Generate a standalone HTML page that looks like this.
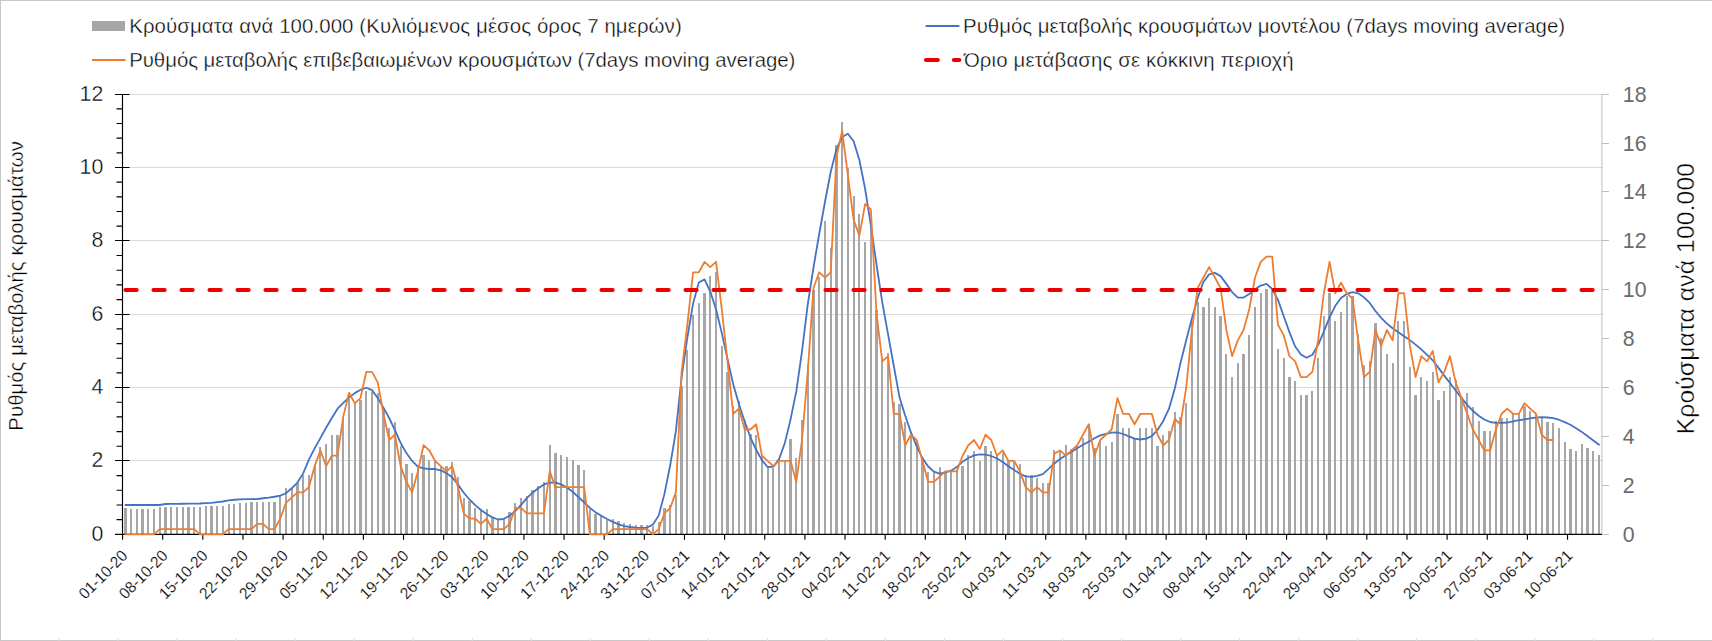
<!DOCTYPE html>
<html lang="el"><head><meta charset="utf-8"><title>Chart</title>
<style>html,body{margin:0;padding:0;background:#fff;}svg{display:block;}text{font-family:"Liberation Sans",Arial,sans-serif;stroke:#fff;stroke-width:0.38px;paint-order:fill stroke;}</style></head><body>
<svg width="1712" height="641" viewBox="0 0 1712 641">
<rect x="0" y="0" width="1712" height="641" fill="#ffffff"/>
<path d="M0 0.5H1712 M0.5 0V641 M0 640.5H1712" stroke="#c8c8c8" stroke-width="1" fill="none"/>
<path d="M59.03 638V641M118.06 638V641M177.09 638V641M236.12 638V641M295.15 638V641M354.18 638V641M413.21 638V641M472.24 638V641M531.27 638V641M590.3 638V641M649.33 638V641M708.36 638V641M767.39 638V641M826.42 638V641M885.45 638V641M944.48 638V641M1003.51 638V641M1062.54 638V641M1121.57 638V641M1180.6 638V641M1239.63 638V641M1298.66 638V641M1357.69 638V641M1416.72 638V641M1475.75 638V641M1534.78 638V641M1593.81 638V641M1652.84 638V641" stroke="#dcdcdc" stroke-width="1" fill="none"/>
<path d="M122.55 460.5H1602.92M122.55 387.5H1602.92M122.55 314.5H1602.92M122.55 240.5H1602.92M122.55 167.5H1602.92M122.55 94.5H1602.92" stroke="#d9d9d9" stroke-width="1" fill="none"/>
<path d="M124 508H127V534.3H124ZM130 509H132V534.3H130ZM136 509H138V534.3H136ZM141 509H144V534.3H141ZM147 509H149V534.3H147ZM153 509H155V534.3H153ZM159 507H161V534.3H159ZM164 507H167V534.3H164ZM170 507H172V534.3H170ZM176 507H178V534.3H176ZM182 507H184V534.3H182ZM187 507H190V534.3H187ZM193 507H195V534.3H193ZM199 507H201V534.3H199ZM205 506H207V534.3H205ZM210 506H213V534.3H210ZM216 506H218V534.3H216ZM222 506H224V534.3H222ZM228 504H230V534.3H228ZM233 504H235V534.3H233ZM239 503H241V534.3H239ZM245 503H247V534.3H245ZM250 502H253V534.3H250ZM256 502H258V534.3H256ZM262 502H264V534.3H262ZM268 502H270V534.3H268ZM273 502H276V534.3H273ZM279 496H281V534.3H279ZM285 488H287V534.3H285ZM291 488H293V534.3H291ZM296 483H299V534.3H296ZM302 475H304V534.3H302ZM308 475H310V534.3H308ZM314 466H316V534.3H314ZM319 447H321V534.3H319ZM325 444H327V534.3H325ZM331 435H333V534.3H331ZM336 435H339V534.3H336ZM342 417H344V534.3H342ZM348 399H350V534.3H348ZM354 402H356V534.3H354ZM359 400H362V534.3H359ZM365 391H367V534.3H365ZM371 392H373V534.3H371ZM377 393H379V534.3H377ZM382 409H385V534.3H382ZM388 428H390V534.3H388ZM394 422H396V534.3H394ZM400 446H402V534.3H400ZM405 464H408V534.3H405ZM411 473H413V534.3H411ZM417 468H419V534.3H417ZM422 455H425V534.3H422ZM428 460H430V534.3H428ZM434 461H436V534.3H434ZM440 466H442V534.3H440ZM445 466H448V534.3H445ZM451 462H453V534.3H451ZM457 477H459V534.3H457ZM463 498H465V534.3H463ZM468 501H471V534.3H468ZM474 508H476V534.3H474ZM480 510H482V534.3H480ZM486 509H488V534.3H486ZM491 518H494V534.3H491ZM497 520H499V534.3H497ZM503 518H505V534.3H503ZM508 512H511V534.3H508ZM514 503H516V534.3H514ZM520 498H522V534.3H520ZM526 496H528V534.3H526ZM531 490H534V534.3H531ZM537 486H539V534.3H537ZM543 482H545V534.3H543ZM549 445H551V534.3H549ZM554 453H557V534.3H554ZM560 455H562V534.3H560ZM566 457H568V534.3H566ZM572 460H574V534.3H572ZM577 465H580V534.3H577ZM583 470H585V534.3H583ZM589 509H591V534.3H589ZM594 514H597V534.3H594ZM600 516H602V534.3H600ZM606 520H608V534.3H606ZM612 519H614V534.3H612ZM617 521H620V534.3H617ZM623 523H625V534.3H623ZM629 524H631V534.3H629ZM635 525H637V534.3H635ZM640 525H643V534.3H640ZM646 525H648V534.3H646ZM652 526H654V534.3H652ZM658 522H660V534.3H658ZM663 508H666V534.3H663ZM669 505H671V534.3H669ZM675 495H677V534.3H675ZM680 386H683V534.3H680ZM686 350H688V534.3H686ZM692 315H694V534.3H692ZM698 303H700V534.3H698ZM703 293H706V534.3H703ZM709 276H711V534.3H709ZM715 272H717V534.3H715ZM721 346H723V534.3H721ZM726 372H729V534.3H726ZM732 406H734V534.3H732ZM738 401H740V534.3H738ZM744 420H746V534.3H744ZM749 434H752V534.3H749ZM755 435H757V534.3H755ZM761 456H763V534.3H761ZM767 466H769V534.3H767ZM772 468H774V534.3H772ZM778 462H780V534.3H778ZM784 460H786V534.3H784ZM789 439H792V534.3H789ZM795 458H797V534.3H795ZM801 420H803V534.3H801ZM807 365H809V534.3H807ZM812 290H815V534.3H812ZM818 277H820V534.3H818ZM824 221H826V534.3H824ZM830 248H832V534.3H830ZM835 145H838V534.3H835ZM841 122H843V534.3H841ZM847 168H849V534.3H847ZM853 196H855V534.3H853ZM858 214H860V534.3H858ZM864 242H866V534.3H864ZM870 225H872V534.3H870ZM875 310H878V534.3H875ZM881 360H883V534.3H881ZM887 353H889V534.3H887ZM893 402H895V534.3H893ZM898 404H901V534.3H898ZM904 422H906V534.3H904ZM910 435H912V534.3H910ZM916 441H918V534.3H916ZM921 458H924V534.3H921ZM927 472H929V534.3H927ZM933 472H935V534.3H933ZM939 467H941V534.3H939ZM944 471H947V534.3H944ZM950 471H952V534.3H950ZM956 471H958V534.3H956ZM961 466H964V534.3H961ZM967 455H969V534.3H967ZM973 451H975V534.3H973ZM979 461H981V534.3H979ZM984 446H987V534.3H984ZM990 451H992V534.3H990ZM996 456H998V534.3H996ZM1002 453H1004V534.3H1002ZM1007 460H1010V534.3H1007ZM1013 462H1015V534.3H1013ZM1019 464H1021V534.3H1019ZM1025 475H1027V534.3H1025ZM1030 475H1033V534.3H1030ZM1036 478H1038V534.3H1036ZM1042 483H1044V534.3H1042ZM1047 483H1050V534.3H1047ZM1053 450H1055V534.3H1053ZM1059 452H1061V534.3H1059ZM1065 445H1067V534.3H1065ZM1070 449H1073V534.3H1070ZM1076 446H1078V534.3H1076ZM1082 438H1084V534.3H1082ZM1088 425H1090V534.3H1088ZM1093 448H1096V534.3H1093ZM1099 441H1101V534.3H1099ZM1105 446H1107V534.3H1105ZM1111 442H1113V534.3H1111ZM1116 414H1119V534.3H1116ZM1122 428H1124V534.3H1122ZM1128 428H1130V534.3H1128ZM1133 438H1136V534.3H1133ZM1139 428H1141V534.3H1139ZM1145 428H1147V534.3H1145ZM1151 428H1153V534.3H1151ZM1156 446H1159V534.3H1156ZM1162 435H1164V534.3H1162ZM1168 431H1170V534.3H1168ZM1174 412H1176V534.3H1174ZM1179 417H1182V534.3H1179ZM1185 403H1187V534.3H1185ZM1191 322H1193V534.3H1191ZM1197 302H1199V534.3H1197ZM1202 307H1205V534.3H1202ZM1208 298H1210V534.3H1208ZM1214 307H1216V534.3H1214ZM1219 316H1222V534.3H1219ZM1225 354H1227V534.3H1225ZM1231 377H1233V534.3H1231ZM1237 363H1239V534.3H1237ZM1242 354H1245V534.3H1242ZM1248 335H1250V534.3H1248ZM1254 307H1256V534.3H1254ZM1260 293H1262V534.3H1260ZM1265 289H1268V534.3H1265ZM1271 291H1273V534.3H1271ZM1277 349H1279V534.3H1277ZM1283 358H1285V534.3H1283ZM1288 377H1291V534.3H1288ZM1294 381H1296V534.3H1294ZM1300 395H1302V534.3H1300ZM1305 395H1308V534.3H1305ZM1311 391H1313V534.3H1311ZM1317 358H1319V534.3H1317ZM1323 316H1325V534.3H1323ZM1328 293H1331V534.3H1328ZM1334 321H1336V534.3H1334ZM1340 312H1342V534.3H1340ZM1346 296H1348V534.3H1346ZM1351 296H1354V534.3H1351ZM1357 334H1359V534.3H1357ZM1363 365H1365V534.3H1363ZM1369 361H1371V534.3H1369ZM1374 323H1377V534.3H1374ZM1380 338H1382V534.3H1380ZM1386 354H1388V534.3H1386ZM1392 363H1394V534.3H1392ZM1397 321H1399V534.3H1397ZM1403 321H1405V534.3H1403ZM1409 367H1411V534.3H1409ZM1414 395H1417V534.3H1414ZM1420 377H1422V534.3H1420ZM1426 381H1428V534.3H1426ZM1432 372H1434V534.3H1432ZM1437 400H1440V534.3H1437ZM1443 391H1445V534.3H1443ZM1449 377H1451V534.3H1449ZM1455 380H1457V534.3H1455ZM1460 397H1463V534.3H1460ZM1466 393H1468V534.3H1466ZM1472 407H1474V534.3H1472ZM1478 421H1480V534.3H1478ZM1483 431H1486V534.3H1483ZM1489 431H1491V534.3H1489ZM1495 421H1497V534.3H1495ZM1500 418H1503V534.3H1500ZM1506 418H1508V534.3H1506ZM1512 414H1514V534.3H1512ZM1518 414H1520V534.3H1518ZM1523 406H1526V534.3H1523ZM1529 411H1531V534.3H1529ZM1535 414H1537V534.3H1535ZM1541 418H1543V534.3H1541ZM1546 422H1549V534.3H1546ZM1552 423H1554V534.3H1552ZM1558 428H1560V534.3H1558ZM1564 442H1566V534.3H1564ZM1569 449H1572V534.3H1569ZM1575 451H1577V534.3H1575ZM1581 444H1583V534.3H1581ZM1586 448H1589V534.3H1586ZM1592 451H1594V534.3H1592ZM1598 455H1600V534.3H1598Z" fill="#a6a6a6" stroke="none" shape-rendering="crispEdges"/>
<path d="M1601.92 94.5V534.3M1601.92 534.5h7M1601.92 485.5h7M1601.92 436.5h7M1601.92 387.5h7M1601.92 338.5h7M1601.92 289.5h7M1601.92 240.5h7M1601.92 191.5h7M1601.92 143.5h7M1601.92 94.5h7" stroke="#bfbfbf" stroke-width="1" fill="none"/>
<path d="M122.5 93.95V534.9M115.05 534.5H129.55M116.55 519.63H122.55M116.55 504.96H122.55M116.55 490.28H122.55M116.55 475.61H122.55M115.05 460.5H129.55M116.55 446.27H122.55M116.55 431.6H122.55M116.55 416.92H122.55M116.55 402.25H122.55M115.05 387.5H129.55M116.55 372.91H122.55M116.55 358.24H122.55M116.55 343.56H122.55M116.55 328.89H122.55M115.05 314.5H129.55M116.55 299.55H122.55M116.55 284.88H122.55M116.55 270.2H122.55M116.55 255.53H122.55M115.05 240.5H129.55M116.55 226.19H122.55M116.55 211.52H122.55M116.55 196.84H122.55M116.55 182.17H122.55M115.05 167.5H129.55M116.55 152.83H122.55M116.55 138.16H122.55M116.55 123.48H122.55M116.55 108.81H122.55M115.05 94.5H129.55M115.05 534.3H1601.92M122.55 534.3v5.4M162.69 534.3v5.4M202.83 534.3v5.4M242.96 534.3v5.4M283.1 534.3v5.4M323.24 534.3v5.4M363.38 534.3v5.4M403.52 534.3v5.4M443.65 534.3v5.4M483.79 534.3v5.4M523.93 534.3v5.4M564.07 534.3v5.4M604.21 534.3v5.4M644.34 534.3v5.4M684.48 534.3v5.4M724.62 534.3v5.4M764.76 534.3v5.4M804.9 534.3v5.4M845.03 534.3v5.4M885.17 534.3v5.4M925.31 534.3v5.4M965.45 534.3v5.4M1005.59 534.3v5.4M1045.72 534.3v5.4M1085.86 534.3v5.4M1126 534.3v5.4M1166.14 534.3v5.4M1206.28 534.3v5.4M1246.41 534.3v5.4M1286.55 534.3v5.4M1326.69 534.3v5.4M1366.83 534.3v5.4M1406.97 534.3v5.4M1447.1 534.3v5.4M1487.24 534.3v5.4M1527.38 534.3v5.4M1567.52 534.3v5.4" stroke="#000" stroke-width="1.15" fill="none"/>
<path d="M125.42 505L131.15 505L136.88 505L142.62 505L148.35 505L154.09 505L159.82 505L165.56 503.99L171.29 503.91L177.02 503.83L182.76 503.75L188.49 503.66L194.22 503.58L199.96 503.5L205.69 503.22L211.43 502.83L217.16 502.16L222.89 501.5L228.63 500.34L234.36 499.74L240.1 499.39L245.83 499.19L251.56 499.1L257.3 499L263.03 498.26L268.77 497.62L274.5 496.75L280.24 495.57L285.97 493.27L291.7 488.3L297.44 482.56L303.17 473.39L308.9 459.69L314.64 448.4L320.37 438.08L326.11 427.76L331.84 418L337.57 408.68L343.31 402.94L349.04 397.52L354.78 393.13L360.51 389.82L366.25 387.75L371.98 390.13L377.71 398L383.45 407.59L389.18 418L394.92 430.24L400.65 442.96L406.38 453.08L412.12 460.96L417.85 466.64L423.59 468.37L429.32 469L435.05 469.01L440.79 470.38L446.52 473.2L452.25 477.32L457.99 484.48L463.72 492.72L469.46 499.46L475.19 505.16L480.93 509.94L486.66 514.02L492.39 517.4L498.13 519.5L503.86 518.78L509.6 515.74L515.33 510.92L521.06 504.92L526.8 498.2L532.53 492.72L538.26 488.21L544 484.4L549.73 482.57L555.47 482.62L561.2 484.35L566.93 487.51L572.67 491.77L578.4 497.15L584.14 502.27L589.87 507.87L595.61 512.36L601.34 515.8L607.07 519.04L612.81 521.9L618.54 524.42L624.27 526.07L630.01 527L635.74 527.57L641.48 528L647.21 527.56L652.94 524.45L658.68 515.63L664.41 494.13L670.15 465.55L675.88 431.21L681.62 377.08L687.35 337.67L693.08 303.56L698.82 282.45L704.55 279.34L710.28 291.59L716.02 309.23L721.75 332.89L727.49 358.69L733.22 384.17L738.95 404.36L744.69 421.57L750.42 437.31L756.16 449.81L761.89 460.18L767.62 467.01L773.36 466.64L779.09 459.09L784.83 443.02L790.56 419.35L796.29 391.43L802.03 351.15L807.76 304.43L813.5 267.5L819.23 233.75L824.96 202L830.7 172L836.43 149.25L842.17 137L847.9 133.75L853.63 141.25L859.37 160L865.1 188.75L870.84 225L876.57 265L882.3 302.68L888.04 334.21L893.77 365.75L899.51 397.29L905.24 415.72L910.97 432.44L916.71 446.35L922.44 458.03L928.18 466.47L933.91 471.68L939.64 473.66L945.38 472.41L951.11 470.69L956.85 466.9L962.58 461.81L968.31 458.01L974.05 455.38L979.78 454.28L985.52 454.6L991.25 456L996.98 458.49L1002.72 462.04L1008.45 466.34L1014.19 470.01L1019.92 473.7L1025.65 476.35L1031.39 476.86L1037.12 475.86L1042.86 474.05L1048.59 468.91L1054.33 463.45L1060.06 459.09L1065.79 455.36L1071.53 451.83L1077.26 448.16L1083 444.75L1088.73 441.76L1094.46 438.32L1100.2 435.42L1105.93 433.81L1111.66 432.67L1117.4 432.5L1123.13 434L1128.87 436.37L1134.6 438.63L1140.34 439.5L1146.07 438.61L1151.8 436.1L1157.54 429.94L1163.27 420.96L1169 408.74L1174.74 388.8L1180.47 363.11L1186.21 340.17L1191.94 318.21L1197.67 298.14L1203.41 282.05L1209.14 274.34L1214.88 272.88L1220.61 276.13L1226.35 283.89L1232.08 292.08L1237.81 297.53L1243.55 297.48L1249.28 293.99L1255.01 289.36L1260.75 285.55L1266.48 283.91L1272.22 289.02L1277.95 299.88L1283.68 316.05L1289.42 332.15L1295.15 346.48L1300.89 354.42L1306.62 357.82L1312.36 354.78L1318.09 345.07L1323.82 331.69L1329.56 317.36L1335.29 305.81L1341.02 298.02L1346.76 293.95L1352.49 292.06L1358.23 293.31L1363.96 297.36L1369.69 302.97L1375.43 311L1381.16 317.94L1386.9 323.66L1392.63 328.29L1398.37 332.31L1404.1 336.25L1409.83 340.12L1415.57 344.61L1421.3 349.34L1427.03 354.81L1432.77 360.31L1438.5 367.9L1444.24 375.59L1449.97 383.01L1455.7 390.48L1461.44 397.94L1467.17 404.85L1472.91 410.77L1478.64 415.78L1484.38 419.52L1490.11 422.01L1495.84 422.78L1501.58 422.8L1507.31 422.51L1513.04 421.39L1518.78 420.24L1524.51 419.28L1530.25 418.36L1535.98 417.65L1541.71 417.08L1547.45 417.49L1553.18 418.18L1558.92 419.71L1564.65 422.09L1570.38 424.73L1576.12 428.17L1581.85 431.89L1587.59 436.19L1593.32 440.45L1599.06 444.67" stroke="#4472c4" stroke-width="1.8" fill="none" stroke-linejoin="round" stroke-linecap="round"/>
<path d="M125.42 534.3L131.15 534.3L136.88 534.3L142.62 534.3L148.35 534.3L154.09 534.3L159.82 529.06L165.56 529.06L171.29 529.06L177.02 529.06L182.76 529.06L188.49 529.06L194.22 529.06L199.96 534.3L205.69 534.3L211.43 534.3L217.16 534.3L222.89 534.3L228.63 529.06L234.36 529.06L240.1 529.06L245.83 529.06L251.56 529.06L257.3 523.82L263.03 523.82L268.77 529.06L274.5 529.06L280.24 518.58L285.97 502.86L291.7 497.62L297.44 492.38L303.17 492.38L308.9 487.14L314.64 466.18L320.37 450.46L326.11 466.18L331.84 455.7L337.57 455.7L343.31 416.4L349.04 392.82L354.78 403.3L360.51 398.06L366.25 371.86L371.98 371.86L377.71 382.34L383.45 413.78L389.18 439.98L394.92 434.74L400.65 466.18L406.38 481.9L412.12 492.38L417.85 471.42L423.59 445.22L429.32 450.46L435.05 460.94L440.79 466.18L446.52 471.42L452.25 466.18L457.99 487.14L463.72 513.34L469.46 518.58L475.19 518.58L480.93 523.82L486.66 518.58L492.39 529.06L498.13 529.06L503.86 529.06L509.6 523.82L515.33 508.1L521.06 508.1L526.8 513.34L532.53 513.34L538.26 513.34L544 513.34L549.73 471.42L555.47 487.14L561.2 487.14L566.93 487.14L572.67 487.14L578.4 487.14L584.14 487.14L589.87 534.3L595.61 534.3L601.34 534.3L607.07 534.3L612.81 529.06L618.54 529.06L624.27 529.06L630.01 529.06L635.74 529.06L641.48 529.06L647.21 529.06L652.94 534.3L658.68 529.06L664.41 513.34L670.15 508.1L675.88 492.38L681.62 371.86L687.35 324.7L693.08 272.3L698.82 272.3L704.55 261.82L710.28 267.06L716.02 261.82L721.75 308.98L727.49 361.38L733.22 413.78L738.95 408.54L744.69 429.5L750.42 429.5L756.16 424.26L761.89 455.7L767.62 460.94L773.36 466.18L779.09 460.94L784.83 460.94L790.56 460.94L796.29 481.9L802.03 439.98L807.76 371.86L813.5 288.02L819.23 272.3L824.96 277.54L830.7 272.3L836.43 157.02L842.17 130.82L847.9 175.36L853.63 219.9L859.37 235.62L865.1 204.18L870.84 209.42L876.57 314.22L882.3 361.38L888.04 356.14L893.77 413.78L899.51 413.78L905.24 445.22L910.97 434.74L916.71 439.98L922.44 460.94L928.18 481.9L933.91 481.9L939.64 476.66L945.38 471.42L951.11 471.42L956.85 471.42L962.58 455.7L968.31 445.22L974.05 439.98L979.78 448.89L985.52 434.74L991.25 439.98L996.98 455.7L1002.72 450.46L1008.45 460.94L1014.19 460.94L1019.92 471.42L1025.65 487.14L1031.39 492.38L1037.12 487.14L1042.86 492.38L1048.59 492.38L1054.33 453.6L1060.06 450.46L1065.79 455.7L1071.53 450.46L1077.26 445.22L1083 434.74L1088.73 424.26L1094.46 455.7L1100.2 439.98L1105.93 434.74L1111.66 429.5L1117.4 398.06L1123.13 413.78L1128.87 413.78L1134.6 424.26L1140.34 413.78L1146.07 413.78L1151.8 413.78L1157.54 434.74L1163.27 445.22L1169 439.98L1174.74 419.02L1180.47 424.26L1186.21 387.58L1191.94 329.94L1197.67 288.02L1203.41 277.54L1209.14 267.06L1214.88 277.54L1220.61 288.02L1226.35 329.94L1232.08 356.14L1237.81 340.42L1243.55 329.94L1249.28 308.98L1255.01 277.54L1260.75 261.82L1266.48 256.58L1272.22 256.58L1277.95 324.7L1283.68 335.18L1289.42 356.14L1295.15 361.38L1300.89 377.1L1306.62 377.1L1312.36 371.86L1318.09 340.42L1323.82 293.26L1329.56 261.82L1335.29 293.26L1341.02 282.78L1346.76 293.26L1352.49 298.5L1358.23 340.42L1363.96 377.1L1369.69 371.86L1375.43 329.94L1381.16 345.66L1386.9 329.94L1392.63 340.42L1398.37 293.26L1404.1 293.26L1409.83 345.66L1415.57 377.1L1421.3 356.14L1427.03 361.38L1432.77 350.9L1438.5 382.34L1444.24 371.86L1449.97 356.14L1455.7 382.34L1461.44 398.06L1467.17 413.78L1472.91 429.5L1478.64 439.98L1484.38 450.46L1490.11 450.46L1495.84 429.5L1501.58 413.78L1507.31 408.54L1513.04 413.78L1518.78 413.78L1524.51 403.3L1530.25 408.54L1535.98 413.78L1541.71 434.74L1547.45 439.98L1553.18 439.98" stroke="#ed7d31" stroke-width="1.8" fill="none" stroke-linejoin="round" stroke-linecap="round"/>
<path d="M125.42 290.07H1599.06" stroke="#ee0000" stroke-width="3.9" stroke-dasharray="11.3 16.7" stroke-linecap="round" fill="none"/>
<text x="103.3" y="541" font-size="21.3" text-anchor="end" fill="#000">0</text>
<text x="103.3" y="467" font-size="21.3" text-anchor="end" fill="#000">2</text>
<text x="103.3" y="394" font-size="21.3" text-anchor="end" fill="#000">4</text>
<text x="103.3" y="321" font-size="21.3" text-anchor="end" fill="#000">6</text>
<text x="103.3" y="247" font-size="21.3" text-anchor="end" fill="#000">8</text>
<text x="103.3" y="174" font-size="21.3" text-anchor="end" fill="#000">10</text>
<text x="103.3" y="101" font-size="21.3" text-anchor="end" fill="#000">12</text>
<text x="1622.8" y="541.6" font-size="21.3" fill="#6b6b6b" style="stroke:none">0</text>
<text x="1622.8" y="492.6" font-size="21.3" fill="#6b6b6b" style="stroke:none">2</text>
<text x="1622.8" y="443.6" font-size="21.3" fill="#6b6b6b" style="stroke:none">4</text>
<text x="1622.8" y="394.6" font-size="21.3" fill="#6b6b6b" style="stroke:none">6</text>
<text x="1622.8" y="345.6" font-size="21.3" fill="#6b6b6b" style="stroke:none">8</text>
<text x="1622.8" y="296.6" font-size="21.3" fill="#6b6b6b" style="stroke:none">10</text>
<text x="1622.8" y="247.6" font-size="21.3" fill="#6b6b6b" style="stroke:none">12</text>
<text x="1622.8" y="198.6" font-size="21.3" fill="#6b6b6b" style="stroke:none">14</text>
<text x="1622.8" y="150.6" font-size="21.3" fill="#6b6b6b" style="stroke:none">16</text>
<text x="1622.8" y="101.6" font-size="21.3" fill="#6b6b6b" style="stroke:none">18</text>
<text transform="translate(23.3 285.9) rotate(-90)" font-size="20.4" text-anchor="middle" fill="#000" textLength="289.5" lengthAdjust="spacing">Ρυθμός μεταβολής κρουσμάτων</text>
<text transform="translate(1693.5 434.3) rotate(-90)" font-size="24.6" fill="#000" textLength="271.3" lengthAdjust="spacing">Κρούσματα ανά 100.000</text>
<text transform="translate(128.55 556.8) rotate(-45)" font-size="16" text-anchor="end" fill="#000" textLength="61.2" lengthAdjust="spacingAndGlyphs" style="stroke-width:0.2px">01-10-20</text>
<text transform="translate(168.69 556.8) rotate(-45)" font-size="16" text-anchor="end" fill="#000" textLength="61.2" lengthAdjust="spacingAndGlyphs" style="stroke-width:0.2px">08-10-20</text>
<text transform="translate(208.83 556.8) rotate(-45)" font-size="16" text-anchor="end" fill="#000" textLength="61.2" lengthAdjust="spacingAndGlyphs" style="stroke-width:0.2px">15-10-20</text>
<text transform="translate(248.96 556.8) rotate(-45)" font-size="16" text-anchor="end" fill="#000" textLength="61.2" lengthAdjust="spacingAndGlyphs" style="stroke-width:0.2px">22-10-20</text>
<text transform="translate(289.1 556.8) rotate(-45)" font-size="16" text-anchor="end" fill="#000" textLength="61.2" lengthAdjust="spacingAndGlyphs" style="stroke-width:0.2px">29-10-20</text>
<text transform="translate(329.24 556.8) rotate(-45)" font-size="16" text-anchor="end" fill="#000" textLength="61.2" lengthAdjust="spacingAndGlyphs" style="stroke-width:0.2px">05-11-20</text>
<text transform="translate(369.38 556.8) rotate(-45)" font-size="16" text-anchor="end" fill="#000" textLength="61.2" lengthAdjust="spacingAndGlyphs" style="stroke-width:0.2px">12-11-20</text>
<text transform="translate(409.52 556.8) rotate(-45)" font-size="16" text-anchor="end" fill="#000" textLength="61.2" lengthAdjust="spacingAndGlyphs" style="stroke-width:0.2px">19-11-20</text>
<text transform="translate(449.65 556.8) rotate(-45)" font-size="16" text-anchor="end" fill="#000" textLength="61.2" lengthAdjust="spacingAndGlyphs" style="stroke-width:0.2px">26-11-20</text>
<text transform="translate(489.79 556.8) rotate(-45)" font-size="16" text-anchor="end" fill="#000" textLength="61.2" lengthAdjust="spacingAndGlyphs" style="stroke-width:0.2px">03-12-20</text>
<text transform="translate(529.93 556.8) rotate(-45)" font-size="16" text-anchor="end" fill="#000" textLength="61.2" lengthAdjust="spacingAndGlyphs" style="stroke-width:0.2px">10-12-20</text>
<text transform="translate(570.07 556.8) rotate(-45)" font-size="16" text-anchor="end" fill="#000" textLength="61.2" lengthAdjust="spacingAndGlyphs" style="stroke-width:0.2px">17-12-20</text>
<text transform="translate(610.21 556.8) rotate(-45)" font-size="16" text-anchor="end" fill="#000" textLength="61.2" lengthAdjust="spacingAndGlyphs" style="stroke-width:0.2px">24-12-20</text>
<text transform="translate(650.34 556.8) rotate(-45)" font-size="16" text-anchor="end" fill="#000" textLength="61.2" lengthAdjust="spacingAndGlyphs" style="stroke-width:0.2px">31-12-20</text>
<text transform="translate(690.48 556.8) rotate(-45)" font-size="16" text-anchor="end" fill="#000" textLength="61.2" lengthAdjust="spacingAndGlyphs" style="stroke-width:0.2px">07-01-21</text>
<text transform="translate(730.62 556.8) rotate(-45)" font-size="16" text-anchor="end" fill="#000" textLength="61.2" lengthAdjust="spacingAndGlyphs" style="stroke-width:0.2px">14-01-21</text>
<text transform="translate(770.76 556.8) rotate(-45)" font-size="16" text-anchor="end" fill="#000" textLength="61.2" lengthAdjust="spacingAndGlyphs" style="stroke-width:0.2px">21-01-21</text>
<text transform="translate(810.9 556.8) rotate(-45)" font-size="16" text-anchor="end" fill="#000" textLength="61.2" lengthAdjust="spacingAndGlyphs" style="stroke-width:0.2px">28-01-21</text>
<text transform="translate(851.03 556.8) rotate(-45)" font-size="16" text-anchor="end" fill="#000" textLength="61.2" lengthAdjust="spacingAndGlyphs" style="stroke-width:0.2px">04-02-21</text>
<text transform="translate(891.17 556.8) rotate(-45)" font-size="16" text-anchor="end" fill="#000" textLength="61.2" lengthAdjust="spacingAndGlyphs" style="stroke-width:0.2px">11-02-21</text>
<text transform="translate(931.31 556.8) rotate(-45)" font-size="16" text-anchor="end" fill="#000" textLength="61.2" lengthAdjust="spacingAndGlyphs" style="stroke-width:0.2px">18-02-21</text>
<text transform="translate(971.45 556.8) rotate(-45)" font-size="16" text-anchor="end" fill="#000" textLength="61.2" lengthAdjust="spacingAndGlyphs" style="stroke-width:0.2px">25-02-21</text>
<text transform="translate(1011.59 556.8) rotate(-45)" font-size="16" text-anchor="end" fill="#000" textLength="61.2" lengthAdjust="spacingAndGlyphs" style="stroke-width:0.2px">04-03-21</text>
<text transform="translate(1051.72 556.8) rotate(-45)" font-size="16" text-anchor="end" fill="#000" textLength="61.2" lengthAdjust="spacingAndGlyphs" style="stroke-width:0.2px">11-03-21</text>
<text transform="translate(1091.86 556.8) rotate(-45)" font-size="16" text-anchor="end" fill="#000" textLength="61.2" lengthAdjust="spacingAndGlyphs" style="stroke-width:0.2px">18-03-21</text>
<text transform="translate(1132 556.8) rotate(-45)" font-size="16" text-anchor="end" fill="#000" textLength="61.2" lengthAdjust="spacingAndGlyphs" style="stroke-width:0.2px">25-03-21</text>
<text transform="translate(1172.14 556.8) rotate(-45)" font-size="16" text-anchor="end" fill="#000" textLength="61.2" lengthAdjust="spacingAndGlyphs" style="stroke-width:0.2px">01-04-21</text>
<text transform="translate(1212.28 556.8) rotate(-45)" font-size="16" text-anchor="end" fill="#000" textLength="61.2" lengthAdjust="spacingAndGlyphs" style="stroke-width:0.2px">08-04-21</text>
<text transform="translate(1252.41 556.8) rotate(-45)" font-size="16" text-anchor="end" fill="#000" textLength="61.2" lengthAdjust="spacingAndGlyphs" style="stroke-width:0.2px">15-04-21</text>
<text transform="translate(1292.55 556.8) rotate(-45)" font-size="16" text-anchor="end" fill="#000" textLength="61.2" lengthAdjust="spacingAndGlyphs" style="stroke-width:0.2px">22-04-21</text>
<text transform="translate(1332.69 556.8) rotate(-45)" font-size="16" text-anchor="end" fill="#000" textLength="61.2" lengthAdjust="spacingAndGlyphs" style="stroke-width:0.2px">29-04-21</text>
<text transform="translate(1372.83 556.8) rotate(-45)" font-size="16" text-anchor="end" fill="#000" textLength="61.2" lengthAdjust="spacingAndGlyphs" style="stroke-width:0.2px">06-05-21</text>
<text transform="translate(1412.97 556.8) rotate(-45)" font-size="16" text-anchor="end" fill="#000" textLength="61.2" lengthAdjust="spacingAndGlyphs" style="stroke-width:0.2px">13-05-21</text>
<text transform="translate(1453.1 556.8) rotate(-45)" font-size="16" text-anchor="end" fill="#000" textLength="61.2" lengthAdjust="spacingAndGlyphs" style="stroke-width:0.2px">20-05-21</text>
<text transform="translate(1493.24 556.8) rotate(-45)" font-size="16" text-anchor="end" fill="#000" textLength="61.2" lengthAdjust="spacingAndGlyphs" style="stroke-width:0.2px">27-05-21</text>
<text transform="translate(1533.38 556.8) rotate(-45)" font-size="16" text-anchor="end" fill="#000" textLength="61.2" lengthAdjust="spacingAndGlyphs" style="stroke-width:0.2px">03-06-21</text>
<text transform="translate(1573.52 556.8) rotate(-45)" font-size="16" text-anchor="end" fill="#000" textLength="61.2" lengthAdjust="spacingAndGlyphs" style="stroke-width:0.2px">10-06-21</text>
<rect x="92" y="21" width="33" height="10" fill="#a6a6a6"/>
<text x="129.2" y="33.1" font-size="20.4" fill="#000" textLength="552.5" lengthAdjust="spacing">Κρούσματα ανά 100.000 (Κυλιόμενος μέσος όρος 7 ημερών)</text>
<path d="M92 60H125.5" stroke="#ed7d31" stroke-width="1.8" fill="none"/>
<text x="129.2" y="66.9" font-size="20.4" fill="#000" textLength="666.2" lengthAdjust="spacing">Ρυθμός μεταβολής επιβεβαιωμένων κρουσμάτων (7days moving average)</text>
<path d="M925.6 26H959.4" stroke="#4472c4" stroke-width="1.8" fill="none"/>
<text x="963.1" y="33.1" font-size="20.4" fill="#000" textLength="602" lengthAdjust="spacing">Ρυθμός μεταβολής κρουσμάτων μοντέλου (7days moving average)</text>
<path d="M925.9 60H937.9 M953.8 60H959.4" stroke="#ee0000" stroke-width="3.9" stroke-linecap="round" fill="none"/>
<text x="963.9" y="66.9" font-size="20.4" fill="#000" textLength="329.7" lengthAdjust="spacing">Όριο μετάβασης σε κόκκινη περιοχή</text>
</svg></body></html>
